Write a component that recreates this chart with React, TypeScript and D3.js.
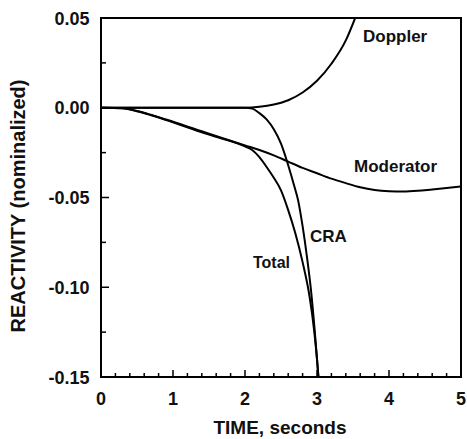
import React from "react";
import * as d3 from "d3";

const xTicks = [0, 1, 2, 3, 4, 5];
const yTicks = [0.05, 0.0, -0.05, -0.1, -0.15];

const dopplerT = [0, 0.5, 1.0, 1.5, 2.0, 2.2, 2.4, 2.6, 2.8, 3.0, 3.2, 3.4, 3.53];
const dopplerV = [0, 0, 0, 0, 0, 0.0005, 0.0018, 0.0042, 0.0085, 0.015, 0.0245, 0.0375, 0.05];

const craT = [0, 2.0, 2.1, 2.2, 2.3, 2.4, 2.5, 2.6, 2.68, 2.74, 2.8, 2.86, 2.92, 2.97, 3.02];
const craV = [0, 0, -0.0005, -0.003, -0.0065, -0.012, -0.02, -0.032, -0.043, -0.052, -0.066, -0.083, -0.103, -0.125, -0.15];

const modT = [0, 0.3, 0.5, 0.7, 1.0, 1.5, 2.0, 2.2, 2.4, 2.6, 2.8, 3.0, 3.2, 3.4, 3.6, 3.8, 4.0, 4.2, 4.4, 4.6, 4.8, 5.0];
const modV = [0, -0.0003, -0.0018, -0.004, -0.0078, -0.0145, -0.021, -0.0235, -0.0265, -0.03, -0.0335, -0.0365, -0.0395, -0.042, -0.0443, -0.0458, -0.0465, -0.0467, -0.0463, -0.0455, -0.0447, -0.0438];

const totalT = [0, 0.3, 0.5, 0.7, 1.0, 1.5, 2.0, 2.1, 2.2, 2.3, 2.4, 2.5, 2.6, 2.7, 2.8, 2.9, 2.96, 3.0, 3.02];
const totalV = [0, -0.0003, -0.0019, -0.0042, -0.0081, -0.015, -0.0215, -0.0235, -0.0275, -0.033, -0.039, -0.046, -0.057, -0.07, -0.086, -0.106, -0.124, -0.14, -0.15];

const series = [
  { name: "Doppler", t: dopplerT, v: dopplerV },
  { name: "CRA", t: craT, v: craV },
  { name: "Moderator", t: modT, v: modV },
  { name: "Total", t: totalT, v: totalV },
];

const W = 467;
const H = 439;
const L = 101, R = 461, T = 18, B = 377;

export default function App() {
  const x = d3.scaleLinear().domain([0, 5]).range([L, R]);
  const y = d3.scaleLinear().domain([-0.15, 0.05]).range([B, T]);
  const line = d3
    .line<[number, number]>()
    .x((d) => x(d[0]))
    .y((d) => y(d[1]))
    .curve(d3.curveMonotoneX);

  const xMinor = d3.range(0, 5.0001, 0.2).filter((v) => Math.abs(v - Math.round(v)) > 1e-6);
  const yMinor = [0.025, -0.025, -0.075, -0.125];
  const font = "'Liberation Sans', Arial, Helvetica, sans-serif";

  return (
    <svg
      width={W}
      height={H}
      style={{ position: "absolute", left: 0, top: 0, background: "#fff" }}
      fontFamily={font}
    >
      <defs>
        <clipPath id="plot">
          <rect x={L} y={T} width={R - L} height={B - T} />
        </clipPath>
      </defs>
      <g clipPath="url(#plot)" fill="none" stroke="#000" strokeWidth={2}>
        {series.map((s) => (
          <path key={s.name} d={line(s.t.map((t, i) => [t, s.v[i]] as [number, number])) || ""} />
        ))}
      </g>
      <rect x={L} y={T} width={R - L} height={B - T} fill="none" stroke="#000" strokeWidth={2} />
      {xTicks.map((t) => (
        <g key={"xt" + t}>
          <line x1={x(t)} x2={x(t)} y1={B} y2={B - 7} stroke="#000" strokeWidth={1.5} />
          <text x={x(t)} y={405} textAnchor="middle" fontSize={18} fontWeight="bold" fill="#111">
            {t}
          </text>
        </g>
      ))}
      {xMinor.map((t) => (
        <line key={"xm" + t} x1={x(t)} x2={x(t)} y1={B} y2={B - 4} stroke="#000" strokeWidth={1.5} />
      ))}
      {yTicks.map((v) => (
        <g key={"yt" + v}>
          <line x1={L} x2={L + 8} y1={y(v)} y2={y(v)} stroke="#000" strokeWidth={1.5} />
          <text x={89.5} y={y(v) + 6.5} textAnchor="end" fontSize={18} fontWeight="bold" fill="#111">
            {v.toFixed(2)}
          </text>
        </g>
      ))}
      {yMinor.map((v) => (
        <line key={"ym" + v} x1={L} x2={L + 5} y1={y(v)} y2={y(v)} stroke="#000" strokeWidth={1.5} />
      ))}
      <text x={280} y={434} textAnchor="middle" fontSize={19} fontWeight="bold" fill="#111">
        TIME, seconds
      </text>
      <text
        transform="translate(25,206) rotate(-90)"
        textAnchor="middle"
        fontSize={20}
        fontWeight="bold"
        fill="#111"
      >
        REACTIVITY (nominalized)
      </text>
      <text x={363} y={42} fontSize={17} fontWeight="bold" fill="#111">Doppler</text>
      <text x={354} y={171.5} fontSize={17} fontWeight="bold" fill="#111">Moderator</text>
      <text x={310} y={241.5} fontSize={17} fontWeight="bold" fill="#111">CRA</text>
      <text x={253} y={268} fontSize={16} fontWeight="bold" fill="#111">Total</text>
    </svg>
  );
}
